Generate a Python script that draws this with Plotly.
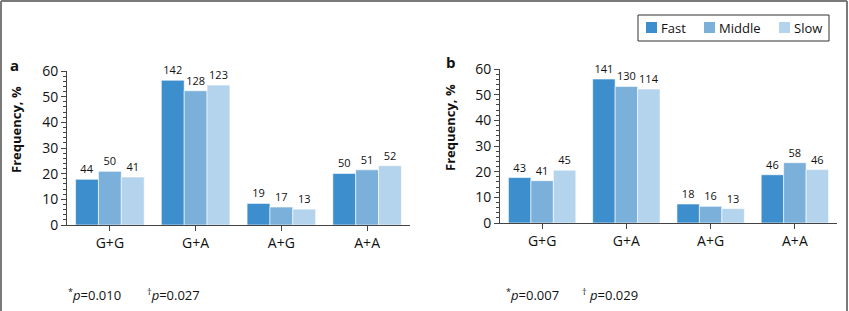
import plotly.graph_objects as go

categories = ["G+G", "G+A", "A+G", "A+A"]
series_names = ["Fast", "Middle", "Slow"]
colors = ["#3d8ecc", "#7bb0db", "#b4d3ec"]

# Panel a: frequency (%) and counts
a_fast = [17.8, 56.4, 8.4, 20.1]
a_middle = [20.9, 52.3, 7.0, 21.5]
a_slow = [18.7, 54.5, 6.2, 23.1]
a_fast_n = [44, 142, 19, 50]
a_middle_n = [50, 128, 17, 51]
a_slow_n = [41, 123, 13, 52]

# Panel b
b_fast = [17.7, 56.1, 7.4, 18.8]
b_middle = [16.5, 53.2, 6.5, 23.5]
b_slow = [20.6, 52.2, 5.6, 20.8]
b_fast_n = [43, 141, 18, 46]
b_middle_n = [41, 130, 16, 58]
b_slow_n = [45, 114, 13, 46]

y_ticks = [0, 10, 20, 30, 40, 50, 60]

W, H = 849, 311
FONT = "Open Sans"

fig = go.Figure()

panels = [
    ("x", "y", [a_fast, a_middle, a_slow], [a_fast_n, a_middle_n, a_slow_n]),
    ("x2", "y2", [b_fast, b_middle, b_slow], [b_fast_n, b_middle_n, b_slow_n]),
]
for xa, ya, vals, counts in panels:
    for name, col, v, n in zip(series_names, colors, vals, counts):
        fig.add_trace(go.Bar(
            x=categories, y=v, name=name, xaxis=xa, yaxis=ya,
            marker=dict(color=col, line=dict(color="white", width=0.6)),
            text=[str(c) for c in n], textposition="outside",
            textfont=dict(size=11, color="#111", family=FONT),
            cliponaxis=False, showlegend=False,
        ))

def px_x(p):
    return p / W

def px_y(p):
    return 1 - p / H

axis_common = dict(showline=True, linecolor="#444", linewidth=1, ticks="outside",
                   tickcolor="#444", tickfont=dict(size=14, family=FONT, color="#111"),
                   showgrid=False, zeroline=False, automargin=False)

shapes = [
    dict(type="line", xref="paper", yref="paper", x0=px_x(1), x1=px_x(847), y0=px_y(1), y1=px_y(1),
         line=dict(color="#7a7a7a", width=2)),
    dict(type="line", xref="paper", yref="paper", x0=px_x(1), x1=px_x(1), y0=px_y(1), y1=0,
         line=dict(color="#7a7a7a", width=2)),
    dict(type="line", xref="paper", yref="paper", x0=px_x(847), x1=px_x(847), y0=px_y(1), y1=0,
         line=dict(color="#7a7a7a", width=2)),
    # legend box
    dict(type="rect", xref="paper", yref="paper", x0=px_x(638), x1=px_x(829), y0=px_y(41), y1=px_y(15),
         line=dict(color="#333", width=1), fillcolor="white"),
]
annotations = []
leg_sq_x = [646, 704, 779]
for name, col, sx in zip(series_names, colors, leg_sq_x):
    shapes.append(dict(type="rect", xref="paper", yref="paper", x0=px_x(sx), x1=px_x(sx + 11),
                       y0=px_y(33), y1=px_y(22), line=dict(width=0), fillcolor=col))
    annotations.append(dict(text=name, x=px_x(sx + 13), y=px_y(27.5), xref="paper", yref="paper",
                            xanchor="left", yanchor="middle", showarrow=False,
                            font=dict(size=13, family=FONT, color="#111")))

footnotes = [
    ("<sup>*</sup><i>p</i>=0.010", 66),
    ("<sup>\u2020</sup><i>p</i>=0.027", 145),
    ("<sup>*</sup><i>p</i>=0.007", 504),
    ("<sup>\u2020</sup> <i>p</i>=0.029", 580),
]
for txt, fx in footnotes:
    annotations.append(dict(text=txt, x=px_x(fx), y=px_y(294), xref="paper", yref="paper",
                            xanchor="left", yanchor="middle", showarrow=False,
                            font=dict(size=13, family=FONT, color="#111")))

annotations += [
    dict(text="<b>a</b>", x=px_x(8), y=px_y(65), xref="paper", yref="paper",
         xanchor="left", yanchor="middle", showarrow=False, font=dict(size=15, family=FONT)),
    dict(text="<b>b</b>", x=px_x(444), y=px_y(62), xref="paper", yref="paper",
         xanchor="left", yanchor="middle", showarrow=False, font=dict(size=15, family=FONT)),
    dict(text="<b>Frequency, %</b>", x=px_x(16), y=px_y(130), xref="paper", yref="paper",
         textangle=-90, xanchor="center", yanchor="middle", showarrow=False,
         font=dict(size=13, family=FONT)),
    dict(text="<b>Frequency, %</b>", x=px_x(450), y=px_y(128), xref="paper", yref="paper",
         textangle=-90, xanchor="center", yanchor="middle", showarrow=False,
         font=dict(size=13, family=FONT)),
]

fig.update_layout(
    width=W, height=H, margin=dict(l=0, r=0, t=0, b=0, autoexpand=False),
    plot_bgcolor="white", paper_bgcolor="white",
    barmode="group", bargap=0.2, bargroupgap=0.0,
    font=dict(family=FONT, color="#111"),
    showlegend=False,
    xaxis=dict(domain=[px_x(67), px_x(410)], anchor="y", ticklen=5, **axis_common),
    yaxis=dict(domain=[px_y(225), px_y(71)], anchor="x", range=[0, 60], tickvals=y_ticks,
               ticklen=5, minor=dict(dtick=2, ticks="outside", ticklen=3, tickcolor="#444"),
               **axis_common),
    xaxis2=dict(domain=[px_x(500), px_x(837)], anchor="y2", ticklen=5, **axis_common),
    yaxis2=dict(domain=[px_y(223), px_y(69)], anchor="x2", range=[0, 60], tickvals=y_ticks,
                ticklen=5, minor=dict(dtick=2, ticks="outside", ticklen=3, tickcolor="#444"),
                **axis_common),
    shapes=shapes,
    annotations=annotations,
)

fig.write_html("out.html", config={"displayModeBar": False},
               post_script="document.body.style.margin='0px';document.body.style.overflow='hidden';")
